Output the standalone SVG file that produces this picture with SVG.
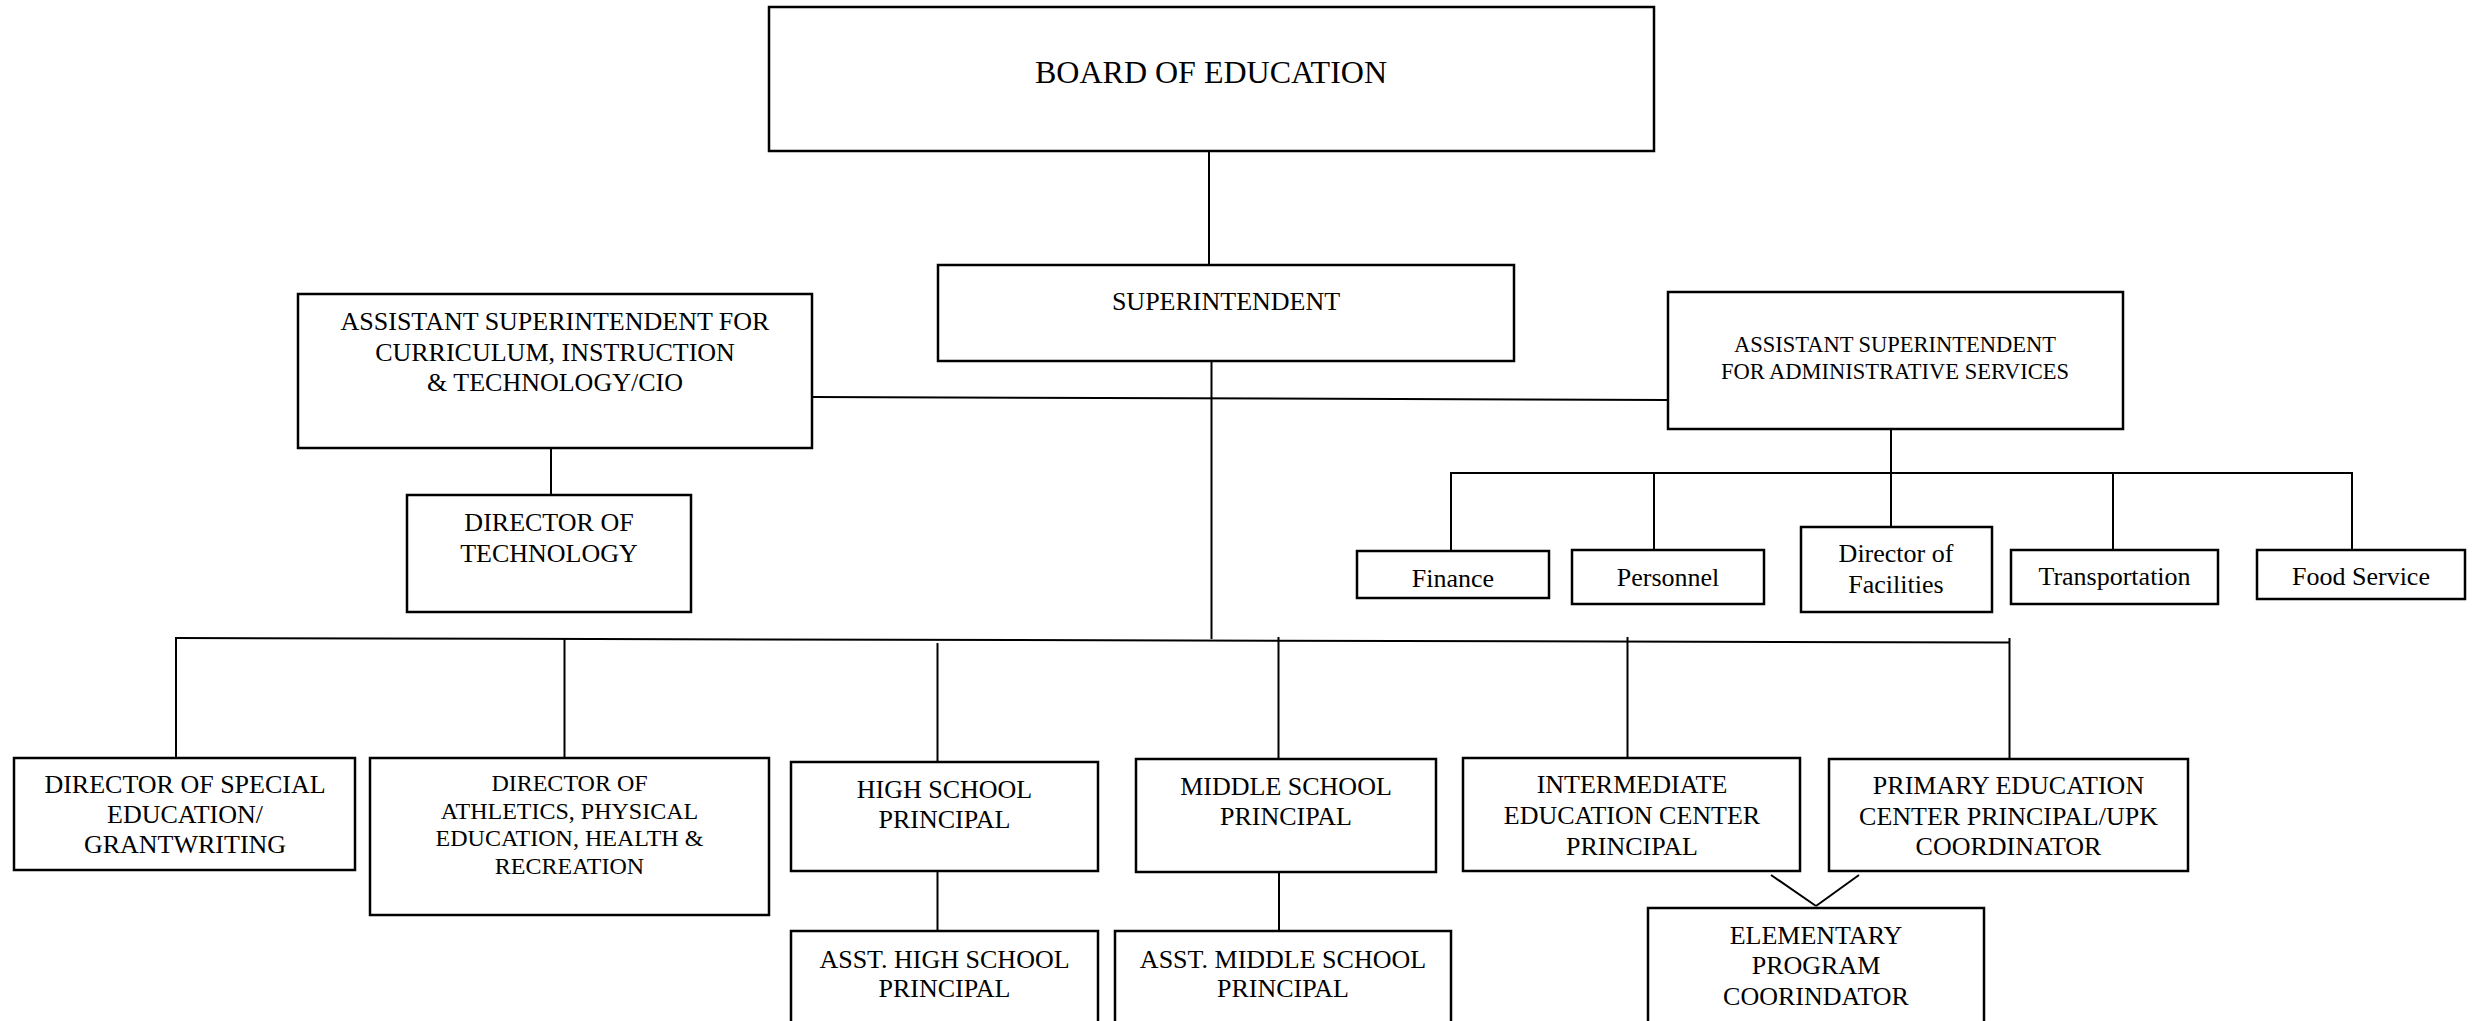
<svg xmlns="http://www.w3.org/2000/svg" width="2481" height="1021" viewBox="0 0 2481 1021">
<style>
.box{fill:#fff;stroke:#000;stroke-width:2.5}
.ln{stroke:#000;stroke-width:2;fill:none}
text{font-family:"Liberation Serif","Times New Roman",serif;font-size:26px;fill:#000;text-anchor:middle}
</style>
<rect width="2481" height="1021" fill="#fff"/>
<g id="connectors">
<line class="ln" x1="1209" y1="151" x2="1209" y2="265"/>
<line class="ln" x1="1211.5" y1="361" x2="1211.5" y2="639"/>
<line class="ln" x1="812" y1="397" x2="1668" y2="400"/>
<line class="ln" x1="551" y1="448" x2="551" y2="495"/>
<line class="ln" x1="1891" y1="429" x2="1891" y2="527"/>
<line class="ln" x1="1451" y1="473" x2="2352" y2="473"/>
<line class="ln" x1="1451" y1="472" x2="1451" y2="551"/>
<line class="ln" x1="1654" y1="473" x2="1654" y2="550"/>
<line class="ln" x1="2113" y1="473" x2="2113" y2="550"/>
<line class="ln" x1="2352" y1="472" x2="2352" y2="550"/>
<line class="ln" x1="176" y1="638" x2="2009.5" y2="642.5" stroke-width="2.5"/>
<line class="ln" x1="176" y1="637" x2="176" y2="758"/>
<line class="ln" x1="564.5" y1="639" x2="564.5" y2="758"/>
<line class="ln" x1="937.5" y1="643" x2="937.5" y2="762"/>
<line class="ln" x1="1278.5" y1="637" x2="1278.5" y2="759"/>
<line class="ln" x1="1627.5" y1="637" x2="1627.5" y2="758"/>
<line class="ln" x1="2009.5" y1="638" x2="2009.5" y2="759"/>
<line class="ln" x1="937.5" y1="871" x2="937.5" y2="931"/>
<line class="ln" x1="1279" y1="872" x2="1279" y2="931"/>
<line class="ln" x1="1771" y1="875" x2="1816" y2="906"/>
<line class="ln" x1="1859" y1="875" x2="1816" y2="906"/>
</g>
<g id="board"><rect class="box" x="769" y="7" width="885" height="144"/><text x="1211" y="83" style="font-size:32px">BOARD OF EDUCATION</text></g>
<g id="superintendent"><rect class="box" x="938" y="265" width="576" height="96"/><text x="1226" y="310">SUPERINTENDENT</text></g>
<g id="asst-curriculum"><rect class="box" x="298" y="294" width="514" height="154"/><text x="555" y="330">ASSISTANT SUPERINTENDENT FOR</text><text x="555" y="361">CURRICULUM, INSTRUCTION</text><text x="555" y="391">&amp; TECHNOLOGY/CIO</text></g>
<g id="asst-admin"><rect class="box" x="1668" y="292" width="455" height="137"/><text x="1895" y="352" style="font-size:22.5px">ASSISTANT SUPERINTENDENT</text><text x="1895" y="379" style="font-size:22.5px">FOR ADMINISTRATIVE SERVICES</text></g>
<g id="dir-technology"><rect class="box" x="407" y="495" width="284" height="117"/><text x="549" y="531">DIRECTOR OF</text><text x="549" y="562">TECHNOLOGY</text></g>
<g id="finance"><rect class="box" x="1357" y="551" width="192" height="47"/><text x="1453" y="587">Finance</text></g>
<g id="personnel"><rect class="box" x="1572" y="550" width="192" height="54"/><text x="1668" y="586">Personnel</text></g>
<g id="facilities"><rect class="box" x="1801" y="527" width="191" height="85"/><text x="1896" y="562">Director of</text><text x="1896" y="593">Facilities</text></g>
<g id="transportation"><rect class="box" x="2011" y="550" width="207" height="54"/><text x="2114.5" y="585">Transportation</text></g>
<g id="food-service"><rect class="box" x="2257" y="550" width="208" height="49"/><text x="2361" y="585">Food Service</text></g>
<g id="special-ed"><rect class="box" x="14" y="758" width="341" height="112"/><text x="185" y="793">DIRECTOR OF SPECIAL</text><text x="185" y="823">EDUCATION/</text><text x="185" y="853">GRANTWRITING</text></g>
<g id="athletics"><rect class="box" x="370" y="758" width="399" height="157"/><text x="569.5" y="791" style="font-size:24px">DIRECTOR OF</text><text x="569.5" y="818.5" style="font-size:24px">ATHLETICS, PHYSICAL</text><text x="569.5" y="846" style="font-size:24px">EDUCATION, HEALTH &amp;</text><text x="569.5" y="873.5" style="font-size:24px">RECREATION</text></g>
<g id="high-school"><rect class="box" x="791" y="762" width="307" height="109"/><text x="944.5" y="798">HIGH SCHOOL</text><text x="944.5" y="828">PRINCIPAL</text></g>
<g id="middle-school"><rect class="box" x="1136" y="759" width="300" height="113"/><text x="1286" y="795">MIDDLE SCHOOL</text><text x="1286" y="825">PRINCIPAL</text></g>
<g id="intermediate"><rect class="box" x="1463" y="758" width="337" height="113"/><text x="1632" y="793">INTERMEDIATE</text><text x="1632" y="824">EDUCATION CENTER</text><text x="1632" y="855">PRINCIPAL</text></g>
<g id="primary"><rect class="box" x="1829" y="759" width="359" height="112"/><text x="2008.5" y="794">PRIMARY EDUCATION</text><text x="2008.5" y="825">CENTER PRINCIPAL/UPK</text><text x="2008.5" y="855">COORDINATOR</text></g>
<g id="asst-high-school"><rect class="box" x="791" y="931" width="307" height="100"/><text x="944.5" y="968">ASST. HIGH SCHOOL</text><text x="944.5" y="997">PRINCIPAL</text></g>
<g id="asst-middle-school"><rect class="box" x="1115" y="931" width="336" height="100"/><text x="1283" y="968">ASST. MIDDLE SCHOOL</text><text x="1283" y="997">PRINCIPAL</text></g>
<g id="elementary"><rect class="box" x="1648" y="908" width="336" height="123"/><text x="1816" y="944">ELEMENTARY</text><text x="1816" y="974">PROGRAM</text><text x="1816" y="1005">COORINDATOR</text></g>
</svg>
